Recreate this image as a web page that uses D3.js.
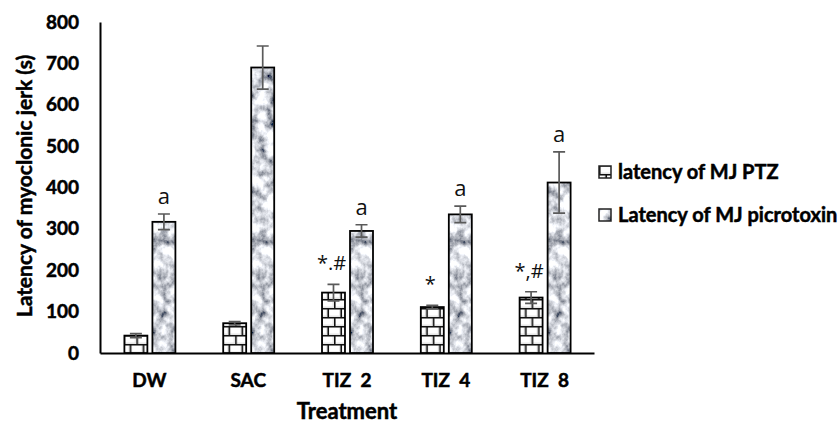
<!DOCTYPE html>
<html>
<head>
<meta charset="utf-8">
<script src="https://cdn.jsdelivr.net/npm/d3@7"></script>
<style>
  body { margin: 0; background: #fff; }
  svg { display: block; font-family: Lato, "Open Sans", sans-serif; }
  .heavy { font-weight: bold; fill: #000; stroke: #000; stroke-width: 0.5px; }
</style>
</head>
<body>
<svg width="839" height="425"></svg>
<script>
var categories = ["DW", "SAC", "TIZ  2", "TIZ  4", "TIZ  8"];
var series = ["latency of MJ PTZ", "Latency of MJ picrotoxin"];
var ptz = [42, 72, 146, 111, 134];
var ptzErr = [5, 4, 20, 4, 14];
var picro = [317, 690, 295, 335, 412];
var picroErr = [19, 52, 15, 20, 74];
var ptzMarks = ["", "", "*.#", "*", "*,#"];
var picroMarks = ["a", "", "a", "a", "a"];
var yTicks = [0, 100, 200, 300, 400, 500, 600, 700, 800];

var svg = d3.select('svg');

var x = d3.scaleBand().domain(categories).range([100, 594]);
var x1 = d3.scaleBand().domain([0, 1]).range([-25, 26]).paddingInner(0.18);
var y = d3.scaleLinear().domain([0, 800]).range([353, 22]);

// patterns and texture
var defs = svg.append('defs');
var brick = defs.append('pattern').attr('id', 'brick')
  .attr('patternUnits', 'userSpaceOnUse')
  .attr('width', 13).attr('height', 18)
  .attr('x', 0).attr('y', 353 % 18);
brick.append('rect').attr('width', 13).attr('height', 18).attr('fill', '#e6e6e6');
brick.append('rect').attr('x', 1.5).attr('y', 1.5).attr('width', 10).attr('height', 6).attr('fill', '#fff');
brick.append('rect').attr('x', 0).attr('y', 10.5).attr('width', 5).attr('height', 6).attr('fill', '#fff');
brick.append('rect').attr('x', 8).attr('y', 10.5).attr('width', 5).attr('height', 6).attr('fill', '#fff');
brick.append('path')
  .attr('d', 'M0,0.75H13M0,9.75H13M0.75,0V9M7.25,9V18')
  .attr('stroke', '#111').attr('stroke-width', 1.6).attr('fill', 'none');

// granite look for the picrotoxin bars
var granite = defs.append('filter').attr('id', 'granite')
  .attr('x', 0).attr('y', 0).attr('width', 1).attr('height', 1);
granite.append('feTurbulence').attr('type', 'fractalNoise')
  .attr('baseFrequency', '0.105 0.085').attr('numOctaves', 4).attr('seed', 11);
granite.append('feColorMatrix').attr('type', 'matrix')
  .attr('values', '2.0 0 0 0 -0.32  2.0 0 0 0 -0.3  2.0 0 0 0 -0.25  0 0 0 0 1');
granite.append('feComposite').attr('in2', 'SourceGraphic').attr('operator', 'in');

// axes
var yAxis = svg.append('g').attr('transform', 'translate(100,0)')
  .call(d3.axisLeft(y).tickValues(yTicks).tickSize(0).tickSizeOuter(0).tickPadding(21));
yAxis.select('.domain').attr('stroke', '#000').attr('stroke-width', 2);
yAxis.selectAll('text').attr('class', 'heavy').attr('font-size', 19)
  .attr('font-family', 'Lato');

var xAxis = svg.append('g').attr('transform', 'translate(0,353)')
  .call(d3.axisBottom(x).tickSize(0).tickSizeOuter(0).tickPadding(21));
xAxis.select('.domain').attr('stroke', '#000').attr('stroke-width', 2);
xAxis.selectAll('text').attr('class', 'heavy').attr('font-size', 19)
  .attr('font-family', 'Lato')
  .style('white-space', 'pre');

// bars
var groups = svg.append('g').selectAll('g').data(categories).enter().append('g')
  .attr('transform', function(d) { return 'translate(' + (x(d) + x.bandwidth() / 2) + ',0)'; });

var rows = categories.map(function(c, i) {
  return [
    { s: 0, v: ptz[i], e: ptzErr[i], m: ptzMarks[i] },
    { s: 1, v: picro[i], e: picroErr[i], m: picroMarks[i] }
  ];
});

var bars = groups.selectAll('g.bar').data(function(d, i) { return rows[i]; })
  .enter().append('g').attr('class', 'bar');

bars.append('rect')
  .attr('x', function(d) { return x1(d.s); })
  .attr('y', function(d) { return y(d.v); })
  .attr('width', x1.bandwidth())
  .attr('height', function(d) { return y(0) - y(d.v); })
  .attr('fill', function(d) { return d.s === 0 ? 'url(#brick)' : '#b8bcc4'; })
  .attr('filter', function(d) { return d.s === 1 ? 'url(#granite)' : null; });

bars.append('rect')
  .attr('x', function(d) { return x1(d.s); })
  .attr('y', function(d) { return y(d.v); })
  .attr('width', x1.bandwidth())
  .attr('height', function(d) { return y(0) - y(d.v); })
  .attr('fill', 'none').attr('stroke', '#000').attr('stroke-width', 1.8);

// error bars
bars.append('path')
  .attr('d', function(d) {
    var cx = x1(d.s) + x1.bandwidth() / 2;
    var t = y(d.v + d.e), b = y(d.v - d.e);
    return 'M' + cx + ',' + t + 'V' + b + 'M' + (cx - 6) + ',' + t + 'H' + (cx + 6) + 'M' + (cx - 6) + ',' + b + 'H' + (cx + 6);
  })
  .attr('stroke', '#5a5a5a').attr('stroke-width', 1.7).attr('fill', 'none');

// significance marks
bars.append('text')
  .attr('x', function(d) { return x1(d.s) + x1.bandwidth() / 2 - (d.s === 0 ? 2 : 0); })
  .attr('y', function(d) { return y(d.v + d.e) - (d.s === 0 ? 14 : 10); })
  .attr('text-anchor', 'middle')
  .attr('font-family', '"Open Sans", sans-serif')
  .attr('font-size', function(d) { return d.s === 0 ? 20 : 22; })
  .attr('fill', '#111')
  .text(function(d) { return d.m; });

// axis titles
svg.append('text')
  .attr('class', 'heavy')
  .attr('transform', 'translate(32,186) rotate(-90)')
  .attr('text-anchor', 'middle')
  .attr('font-size', 21)
  .text('Latency of myoclonic jerk (s)');

svg.append('text')
  .attr('class', 'heavy')
  .attr('x', 347).attr('y', 419)
  .attr('text-anchor', 'middle')
  .attr('font-size', 22)
  .text('Treatment');

// legend
var legend = svg.append('g').selectAll('g').data(series).enter().append('g')
  .attr('transform', function(d, i) { return 'translate(599,' + (172 + i * 43) + ')'; });
legend.append('rect')
  .attr('x', 0).attr('y', -6).attr('width', 12).attr('height', 12)
  .attr('fill', function(d, i) { return i === 0 ? 'url(#brick)' : '#b8bcc4'; })
  .attr('filter', function(d, i) { return i === 1 ? 'url(#granite)' : null; });
legend.append('rect')
  .attr('x', 0).attr('y', -6).attr('width', 12).attr('height', 12)
  .attr('fill', 'none').attr('stroke', '#222').attr('stroke-width', 1.5);
legend.append('text')
  .attr('class', 'heavy')
  .attr('x', 19).attr('y', 7)
  .attr('font-size', 20)
  .text(function(d) { return d; });
</script>
</body>
</html>
